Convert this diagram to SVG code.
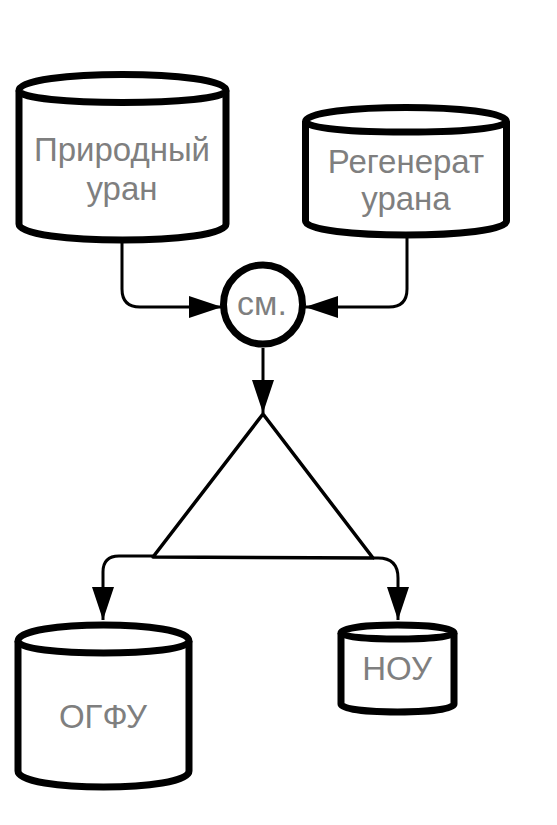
<svg xmlns="http://www.w3.org/2000/svg" width="557" height="825" viewBox="0 0 557 825">
<defs>
<marker id="arr" markerUnits="userSpaceOnUse" markerWidth="34" markerHeight="22" refX="33" refY="11" orient="auto" viewBox="0 0 34 22">
<path d="M0,0 L33,11 L0,22 Z" fill="#000"/>
</marker>
<style>
.cyl{fill:#fff;stroke:#000;stroke-width:7;stroke-linejoin:round}
.cyl-in{fill:none;stroke:#000;stroke-width:7}
.lbl{font-family:"Liberation Sans",Arial,sans-serif;font-size:33px;fill:#7f7f7f;text-anchor:middle}
.conn{fill:none;stroke:#000;stroke-width:3}
</style>
</defs>
<rect width="557" height="825" fill="#fff"/>
<g id="connectors">
<path class="conn" d="M122,242 L122,289 Q122,307 140,307 L222,307" marker-end="url(#arr)"/>
<path class="conn" d="M407,236 L407,289 Q407,307 389,307 L305,307" marker-end="url(#arr)"/>
<path class="conn" d="M263,348 L263,413" marker-end="url(#arr)"/>
<path class="conn" d="M153,556 L119,556 Q103,556 103,572 L103,620" marker-end="url(#arr)"/>
<path class="conn" d="M373,558 L378,558 Q398,558 398,578 L398,620" marker-end="url(#arr)"/>
</g>
<g id="natural-uranium">
<path class="cyl" d="M19,90.5 C19,69.17 226,69.17 226,90.5 L226,224 C226,245.33 19,245.33 19,224 Z"/>
<path class="cyl-in" d="M19,90.5 C19,106.5 226,106.5 226,90.5"/>
<text class="lbl" x="122" y="161">Природный</text>
<text class="lbl" x="122" y="200">уран</text>
</g>
<g id="regenerated-uranium">
<path class="cyl" d="M305.5,121.5 C305.5,102.83 506.5,102.83 506.5,121.5 L506.5,221 C506.5,239.67 305.5,239.67 305.5,221 Z"/>
<path class="cyl-in" d="M305.5,121.5 C305.5,135.5 506.5,135.5 506.5,121.5"/>
<text class="lbl" x="406" y="173">Регенерат</text>
<text class="lbl" x="406" y="210">урана</text>
</g>
<g id="mixer">
<circle cx="263" cy="304.5" r="39.5" fill="#fff" stroke="#000" stroke-width="7"/>
<text class="lbl" x="262" y="315" style="font-size:34px">см.</text>
</g>
<g id="splitter">
<path d="M263,414 L373,558 L153,557 Z" fill="#fff" stroke="#000" stroke-width="3.5" stroke-linejoin="round"/>
</g>
<g id="ogfu">
<path class="cyl" d="M18,641 C18,619.67 189,619.67 189,641 L189,771 C189,792.33 18,792.33 18,771 Z"/>
<path class="cyl-in" d="M18,641 C18,657 189,657 189,641"/>
<text class="lbl" x="103" y="728">ОГФУ</text>
</g>
<g id="nou">
<path class="cyl" d="M341,633 C341,622.33 454,622.33 454,633 L454,704 C454,714.67 341,714.67 341,704 Z"/>
<path class="cyl-in" d="M341,633 C341,641 454,641 454,633"/>
<text class="lbl" x="397" y="680">НОУ</text>
</g>
</svg>
